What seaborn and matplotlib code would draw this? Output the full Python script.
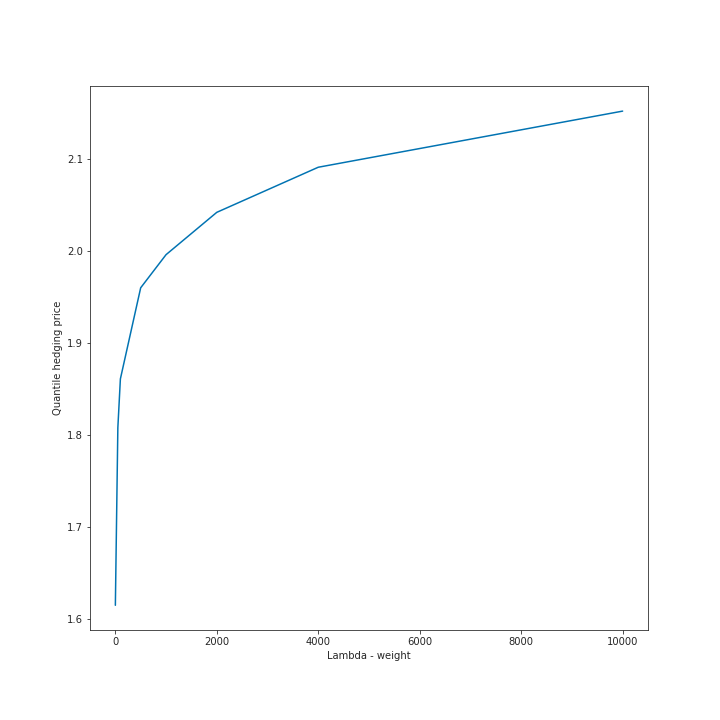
import numpy as np
import pandas as pd
import seaborn as sns
import matplotlib.pyplot as plt

lambdas = [1, 50, 100, 500, 1000, 2000, 4000, 10000]
prices = [1.615, 1.808, 1.861, 1.960, 1.996, 2.042, 2.091, 2.152]

df = pd.DataFrame({'Lambda - weight': lambdas, 'Quantile hedging price': prices})

sns.set_style('ticks')
sns.set_palette('colorblind')
plt.figure(figsize=(10, 10), dpi=72)
sns.lineplot(data=df, x='Lambda - weight', y='Quantile hedging price')
plt.subplots_adjust(bottom=0.125)
plt.savefig('out.png')
